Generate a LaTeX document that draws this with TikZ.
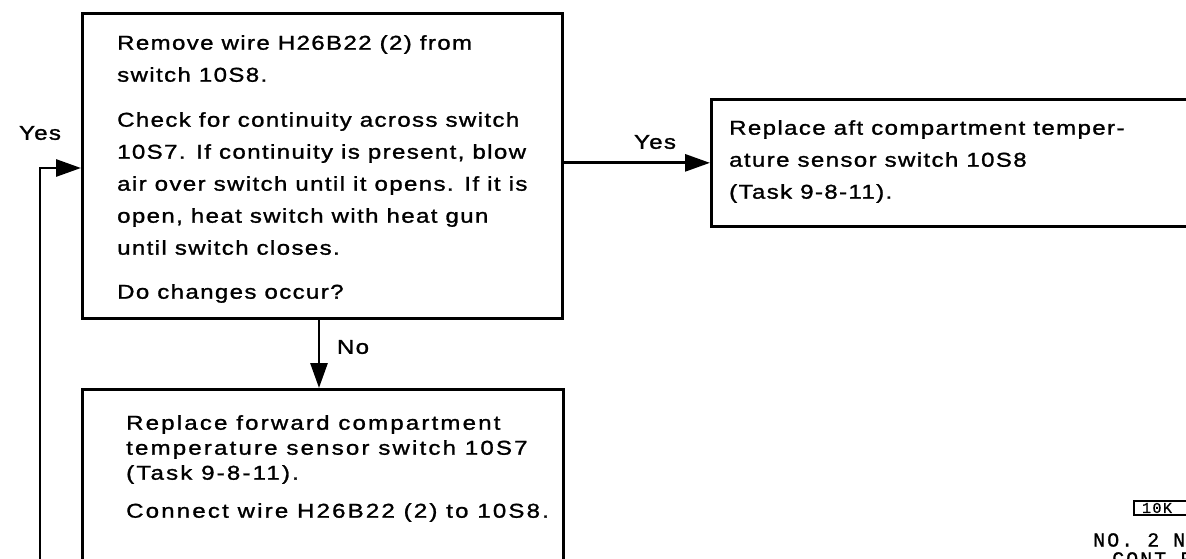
\documentclass[tikz,border=0pt]{standalone}
\usepackage{fontspec}
\setmainfont{Liberation Sans}[FakeStretch=1.2,LetterSpace=7,FakeBold=1.3]
\newfontfamily\codefont{Liberation Mono}[LetterSpace=10,FakeBold=1]
\usetikzlibrary{arrows.meta}
\tikzset{
  box/.style={draw,line width=2.7pt,rectangle,inner sep=0pt,anchor=north west},
  conn/.style={line width=2.9pt,-{Triangle[length=25pt,width=17pt]}},
  lbl/.style={font=\fontsize{20}{24}\selectfont,inner sep=0pt},
  txt/.style={font=\fontsize{20}{32}\selectfont,align=left,anchor=north west,inner sep=0pt},
  txtb/.style={font={\addfontfeatures{LetterSpace=11}\fontsize{20}{25}\selectfont},align=left,anchor=north west,inner sep=0pt},
  code/.style={font=\codefont\fontsize{20}{20}\selectfont,anchor=north west,inner sep=0pt}
}
\begin{document}
\begin{tikzpicture}[x=1pt,y=-1pt]
\useasboundingbox (0,0) rectangle (1186,559);
\clip (0,0) rectangle (1186,559);
\fill[white] (0,0) rectangle (1186,559);

% boxes
\node[box,minimum width=480pt,minimum height=305pt] (check) at (81,12) {};
\node[box,minimum width=520pt,minimum height=127pt] (aft) at (710,98) {};
\node[box,minimum width=481pt,minimum height=220pt] (fwd) at (81,388) {};

% texts
\node[txt] (checkt) at (117,35) {Remove wire H26B22 (2) from\\ switch 10S8.\\[13pt]
Check for continuity across switch\\ 10S7. If continuity is present, blow\\
air over switch until it opens. If it is\\ open, heat switch with heat gun\\
until switch closes.\\[12pt] Do changes occur?};
\node[txt] (aftt) at (729,120) {Replace aft compartment temper-\\ ature sensor switch 10S8\\ (Task 9-8-11).};
\node[txtb] (fwdt) at (126,415) {Replace forward compartment\\ temperature sensor switch 10S7\\ (Task 9-8-11).\\[13pt] Connect wire H26B22 (2) to 10S8.};

% connectors
\coordinate (loopb) at (40,570);
\coordinate (loopt) at (40,168);
\coordinate (nox) at (319,0);
\draw[conn] (loopb) -- (loopt) -- (loopt -| check.west);
\draw[conn] (check.east |- aft.west) -- (aft.west);
\draw[conn] (check.south -| nox) -- (fwd.north -| nox);

% labels
\node[lbl] (yes1) at (40,133) {Yes};
\node[lbl] (yes2) at (655,142) {Yes};
\node[lbl] (no) at (353,347) {No};

% corner reference
\node[draw,line width=2pt,font=\codefont\fontsize{15}{15}\selectfont,inner sep=0.5pt,minimum height=14pt,minimum width=70pt,text width=66pt,align=left,anchor=north west] (ref) at (1133,500) {\hspace{6pt}10K};
\node[code] (no2) at (1093,533) {NO. 2 N};
\node[code] (cont) at (1112,552) {CONT F};
\end{tikzpicture}
\end{document}
